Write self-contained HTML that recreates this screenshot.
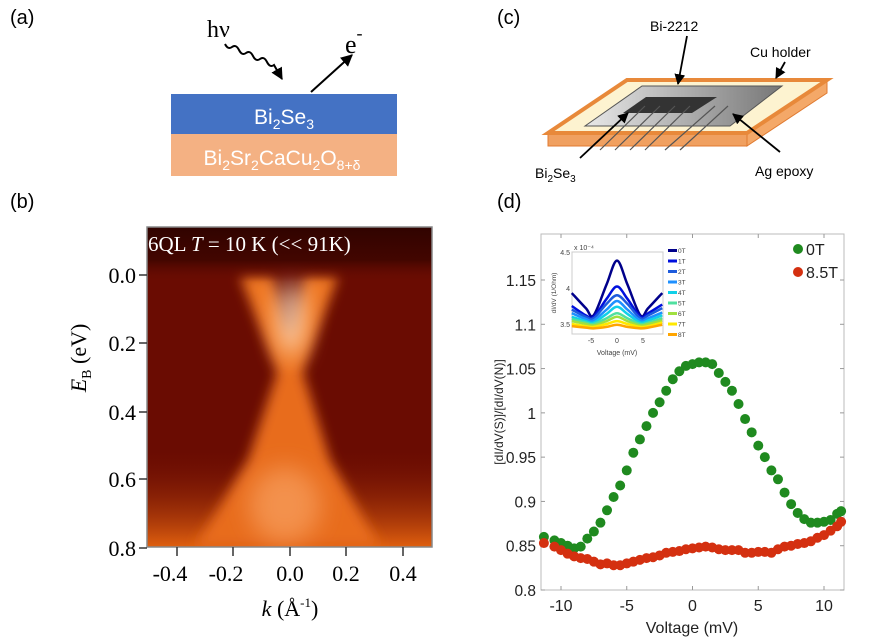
<!DOCTYPE html>
<html><head><meta charset="utf-8"><style>
body{margin:0;background:#fff;width:869px;height:643px;overflow:hidden;font-family:"Liberation Sans",sans-serif}
svg{display:block}
</style></head><body>
<svg width="869" height="643" viewBox="0 0 869 643">
<defs>
<filter id="bl" x="-50%" y="-50%" width="200%" height="200%"><feGaussianBlur stdDeviation="6"/></filter>
<filter id="bl2" x="-50%" y="-50%" width="200%" height="200%"><feGaussianBlur stdDeviation="12"/></filter>
<linearGradient id="plate" x1="0" x2="1"><stop offset="0" stop-color="#e8e8e8"/><stop offset="1" stop-color="#777"/></linearGradient>
<linearGradient id="bot" x1="0" y1="0" x2="0" y2="1"><stop offset="0" stop-color="#7a1404" stop-opacity="0"/><stop offset="1" stop-color="#e0600f"/></linearGradient>
<linearGradient id="topd" x1="0" y1="0" x2="0" y2="1"><stop offset="0" stop-color="#300300"/><stop offset="0.6" stop-color="#3e0500" stop-opacity="0.9"/><stop offset="1" stop-color="#6a0c02" stop-opacity="0"/></linearGradient>
<clipPath id="clipb"><rect x="147" y="227" width="285" height="320"/></clipPath>
<marker id="ah" viewBox="0 0 10 10" refX="9" refY="5" markerWidth="6" markerHeight="6" orient="auto"><path d="M0,0L10,5L0,10z" fill="#000"/></marker>
</defs>

<text x="10" y="24" font-size="20">(a)</text>
<text x="10" y="208" font-size="20">(b)</text>
<text x="497" y="24" font-size="20">(c)</text>
<text x="497" y="208" font-size="20">(d)</text>

<g>
<rect x="171" y="94" width="226" height="40" fill="#4472c4"/>
<rect x="171" y="134" width="226" height="42" fill="#f4b183"/>
<text x="284" y="124" font-size="21" fill="#fff" text-anchor="middle">Bi<tspan font-size="14" dy="5">2</tspan><tspan dy="-5">Se</tspan><tspan font-size="14" dy="5">3</tspan></text>
<text x="282" y="165" font-size="21" fill="#fff" text-anchor="middle">Bi<tspan font-size="14" dy="5">2</tspan><tspan dy="-5">Sr</tspan><tspan font-size="14" dy="5">2</tspan><tspan dy="-5">CaCu</tspan><tspan font-size="14" dy="5">2</tspan><tspan dy="-5">O</tspan><tspan font-size="14" dy="5">8+δ</tspan></text>
<text x="207" y="37" font-family="Liberation Serif,serif" font-size="24">hν</text>
<path d="M225,44 q3,6 7,3 q4,-3 7,3 q3,6 7,3 q4,-3 7,3 q3,6 7,3 q4,-3 7,3 q3,6 7,3 l8,14" fill="none" stroke="#000" stroke-width="2" marker-end="url(#ah)"/>
<line x1="311" y1="92" x2="352" y2="55" stroke="#000" stroke-width="2" marker-end="url(#ah)"/>
<text x="345" y="53" font-family="Liberation Serif,serif" font-size="26">e<tspan font-size="18" dy="-14">-</tspan></text>
</g>

<g>
<polygon points="548,133 747,133 747,146 548,146" fill="#f0a060" stroke="#e07a30"/>
<polygon points="747,133 827,80 827,93 747,146" fill="#f4a868" stroke="#e07a30"/>
<polygon points="627,80 827,80 747,133 548,133" fill="#fdf3d0" stroke="#e8893a" stroke-width="4"/>
<polygon points="642,86 782,86 730,126 585,126" fill="url(#plate)" stroke="#555"/>
<polygon points="646,97 717,97 692,113 623,113" fill="#333"/>
<g stroke="#555" stroke-width="1.2">
<line x1="645" y1="106" x2="600" y2="150"/><line x1="660" y1="106" x2="615" y2="150"/><line x1="675" y1="106" x2="630" y2="150"/><line x1="690" y1="106" x2="645" y2="150"/><line x1="715" y1="106" x2="665" y2="150"/><line x1="728" y1="106" x2="680" y2="150"/>
</g>
<text x="650" y="31" font-size="14">Bi-2212</text>
<line x1="687" y1="36" x2="678" y2="84" stroke="#000" stroke-width="1.8" marker-end="url(#ah)"/>
<text x="750" y="57" font-size="14">Cu holder</text>
<line x1="785" y1="62" x2="776" y2="78" stroke="#000" stroke-width="1.8" marker-end="url(#ah)"/>
<text x="755" y="176" font-size="14">Ag epoxy</text>
<line x1="780" y1="152" x2="733" y2="114" stroke="#000" stroke-width="1.8" marker-end="url(#ah)"/>
<text x="535" y="178" font-size="14">Bi<tspan font-size="10" dy="4">2</tspan><tspan dy="-4">Se</tspan><tspan font-size="10" dy="4">3</tspan></text>
<line x1="580" y1="158" x2="628" y2="113" stroke="#000" stroke-width="1.8" marker-end="url(#ah)"/>
</g>

<g>
<g clip-path="url(#clipb)">
<rect x="147" y="227" width="285" height="320" fill="#6a0c02"/>
<rect x="147" y="450" width="285" height="97" fill="url(#bot)"/>
<g filter="url(#bl)">
<polygon points="240,276 272,276 290,335 290,385 282,385" fill="#ee7622"/>
<polygon points="305,276 338,276 298,385 290,385 290,335" fill="#ee7622"/>
<polygon points="278,370 302,370 330,460 380,547 195,547 248,460" fill="#e86c1a"/>
</g>
<g filter="url(#bl2)">
<ellipse cx="291" cy="318" rx="13" ry="38" fill="#ffe0c0" opacity="0.9"/>
<ellipse cx="285" cy="505" rx="36" ry="38" fill="#f8a060" opacity="0.7"/>
</g>
<rect x="147" y="227" width="285" height="55" fill="url(#topd)"/>
</g>
<rect x="147" y="227" width="285" height="320" fill="none" stroke="#888" stroke-width="1.5"/>
<text x="148" y="251" font-family="Liberation Serif,serif" font-size="21" fill="#fff">6QL <tspan font-style="italic">T</tspan> = 10 K (&lt;&lt; 91K)</text>
</g>
<g font-family="Liberation Serif,serif" font-size="22">
<g text-anchor="end">
<text x="136" y="283">0.0</text><text x="136" y="351">0.2</text><text x="136" y="420">0.4</text><text x="136" y="487">0.6</text><text x="136" y="556">0.8</text>
</g>
<g stroke="#333" stroke-width="1.5">
<line x1="139" y1="275" x2="147" y2="275"/><line x1="139" y1="343" x2="147" y2="343"/><line x1="139" y1="412" x2="147" y2="412"/><line x1="139" y1="479" x2="147" y2="479"/><line x1="139" y1="548" x2="147" y2="548"/>
<line x1="177" y1="547" x2="177" y2="556"/><line x1="233" y1="547" x2="233" y2="556"/><line x1="290" y1="547" x2="290" y2="556"/><line x1="346" y1="547" x2="346" y2="556"/><line x1="403" y1="547" x2="403" y2="556"/>
</g>
<g text-anchor="middle">
<text x="170" y="581">-0.4</text><text x="226" y="581">-0.2</text><text x="290" y="581">0.0</text><text x="346" y="581">0.2</text><text x="403" y="581">0.4</text>
</g>
<text x="290" y="616" text-anchor="middle"><tspan font-style="italic">k</tspan> (Å<tspan font-size="13" dy="-9">-1</tspan><tspan dy="9">)</tspan></text>
<text transform="translate(86,358) rotate(-90)" text-anchor="middle"><tspan font-style="italic">E</tspan><tspan font-size="14" dy="5">B</tspan><tspan dy="-5"> (eV)</tspan></text>
</g>

<g id="plotd"></g>
</svg>
<script>
const volts=[-11.3,-10.5,-10,-9.5,-9,-8.5,-8,-7.5,-7,-6.5,-6,-5.5,-5,-4.5,-4,-3.5,-3,-2.5,-2,-1.5,-1,-0.5,0,0.5,1,1.5,2,2.5,3,3.5,4,4.5,5,5.5,6,6.5,7,7.5,8,8.5,9,9.5,10,10.5,11,11.3];
const g0T=[0.86,0.856,0.853,0.85,0.847,0.849,0.858,0.866,0.876,0.89,0.905,0.918,0.935,0.955,0.97,0.985,1.0,1.012,1.025,1.038,1.047,1.053,1.055,1.057,1.057,1.055,1.045,1.035,1.025,1.01,0.993,0.978,0.963,0.95,0.935,0.925,0.91,0.897,0.887,0.88,0.876,0.876,0.877,0.879,0.886,0.889];
const g85T=[0.853,0.849,0.845,0.841,0.838,0.836,0.835,0.832,0.829,0.83,0.828,0.828,0.83,0.832,0.834,0.836,0.837,0.839,0.842,0.843,0.844,0.846,0.847,0.848,0.849,0.848,0.846,0.845,0.845,0.845,0.842,0.842,0.843,0.843,0.842,0.846,0.849,0.85,0.852,0.853,0.855,0.859,0.862,0.867,0.872,0.877];
const yTicks=[0.8,0.85,0.9,0.95,1,1.05,1.1,1.15];
const yTickLabels=["0.8","0.85","0.9","0.95","1","1.05","1.1","1.15"];
const xTicks=[-10,-5,0,5,10];
const insetV=[-8.7,-6,-4.5,-2,0,2,4.5,6,8.7];
const insetFields=["0T","1T","2T","3T","4T","5T","6T","7T","8T"];
const insetColors=["#00008b","#0010dd","#1e5bdc","#1e90ff","#10d0e8","#50e0a0","#a0e040","#ffe800","#ffa500"];
const insetData=[
[3.93,3.72,3.62,4.05,4.38,4.05,3.62,3.72,3.93],
[3.75,3.62,3.6,3.85,4.02,3.85,3.6,3.65,3.77],
[3.7,3.6,3.58,3.78,3.9,3.78,3.58,3.62,3.72],
[3.65,3.57,3.55,3.7,3.82,3.7,3.55,3.58,3.66],
[3.6,3.54,3.52,3.64,3.74,3.64,3.52,3.55,3.62],
[3.57,3.52,3.5,3.58,3.65,3.58,3.5,3.52,3.58],
[3.54,3.5,3.48,3.54,3.6,3.54,3.48,3.5,3.55],
[3.5,3.47,3.46,3.5,3.54,3.5,3.46,3.47,3.52],
[3.47,3.45,3.44,3.46,3.49,3.46,3.44,3.45,3.49]];
const NS="http://www.w3.org/2000/svg";
const root=document.getElementById('plotd');
function mk(tag,attrs,parent){const e=document.createElementNS(NS,tag);for(const k in attrs)e.setAttribute(k,attrs[k]);(parent||root).appendChild(e);return e;}
const X=v=>692.5+v*13.15, Y=g=>590-(g-0.8)*885.7;
const frame=mk('rect',{x:541,y:234,width:303,height:356,fill:'none',stroke:'#bbb'});


yTicks.forEach((t,i)=>{
 mk('line',{x1:541,y1:Y(t),x2:545,y2:Y(t),stroke:'#999'});
 mk('line',{x1:840,y1:Y(t),x2:844,y2:Y(t),stroke:'#999'});
 const tx=mk('text',{x:536,y:Y(t)+6,'font-size':15.5,'text-anchor':'end',fill:'#222'});
 tx.textContent=yTickLabels[i];
 
 
});
xTicks.forEach(t=>{
 mk('line',{x1:X(t),y1:590,x2:X(t),y2:586,stroke:'#999'});
 mk('line',{x1:X(t),y1:234,x2:X(t),y2:238,stroke:'#999'});
 const tx=mk('text',{x:X(t),y:611,'font-size':16,'text-anchor':'middle',fill:'#222'});
 tx.textContent=String(t);
 
 
});
const xt=mk('text',{x:692,y:633,'font-size':16,'text-anchor':'middle',fill:'#222'});
xt.textContent='Voltage (mV)';


const yt=mk('text',{transform:'translate(503,412) rotate(-90)','font-size':12,'text-anchor':'middle',fill:'#222'});
yt.textContent='[dI/dV(S)]/[dI/dV(N)]';


function series(vals,color,name){
 const g=mk('g',{fill:color});
 
 
 volts.forEach((v,i)=>{const c=mk('circle',{cx:X(v),cy:Y(vals[i]),r:5},g);
 
 });
}
series(g0T,'#1f8a1f','series-0T');
series(g85T,'#d43010','series-8p5T');
[['0T','#1f8a1f',249],['8.5T','#d43010',272]].forEach(([l,c,y])=>{
 const cc=mk('circle',{cx:798,cy:y,r:5,fill:c});
 
 
 const t=mk('text',{x:806,y:y+6,'font-size':16,fill:'#222'});t.textContent=l;
 
 
});
const IX=v=>617+v*5.2, IY=g=>324-(g-3.5)*72;
const inset=mk('g',{});


mk('rect',{x:572,y:252,width:91,height:82,fill:'#fff',stroke:'#ccc'},inset);
insetData.forEach((arr,k)=>{
 const pts=insetV.map((v,i)=>[IX(v),IY(arr[i])]);
 let d='M'+pts[0][0]+','+pts[0][1];
 for(let i=0;i<pts.length-1;i++){const p0=pts[Math.max(0,i-1)],p1=pts[i],p2=pts[i+1],p3=pts[Math.min(pts.length-1,i+2)];
  d+=` C${p1[0]+(p2[0]-p0[0])/6},${p1[1]+(p2[1]-p0[1])/6} ${p2[0]-(p3[0]-p1[0])/6},${p2[1]-(p3[1]-p1[1])/6} ${p2[0]},${p2[1]}`;}
 const p=mk('path',{d:d,fill:'none',stroke:insetColors[k],'stroke-width':2.5},inset);
 
 
 mk('rect',{x:668,y:249+k*10.5,width:9,height:3,fill:insetColors[k]},inset);
 const lt=mk('text',{x:678,y:253+k*10.5,'font-size':6.5,fill:'#444'},inset);lt.textContent=insetFields[k];
 
 
});
[[3.5,'3.5'],[4,'4'],[4.5,'4.5']].forEach(([v,l])=>{const t=mk('text',{x:570,y:IY(v)+3,'font-size':7,'text-anchor':'end',fill:'#444'},inset);t.textContent=l;});
[-5,0,5].forEach(v=>{const t=mk('text',{x:IX(v),y:343,'font-size':7,'text-anchor':'middle',fill:'#444'},inset);t.textContent=String(v);});
const ixt=mk('text',{x:617,y:355,'font-size':7,'text-anchor':'middle',fill:'#444'},inset);ixt.textContent='Voltage (mV)';


const iyt=mk('text',{transform:'translate(556,293) rotate(-90)','font-size':6.5,'text-anchor':'middle',fill:'#444'},inset);iyt.textContent='dI/dV (1/Ohm)';


const ie=mk('text',{x:574,y:250,'font-size':7,fill:'#444'},inset);ie.textContent='x 10⁻⁴';
</script>
</body></html>
